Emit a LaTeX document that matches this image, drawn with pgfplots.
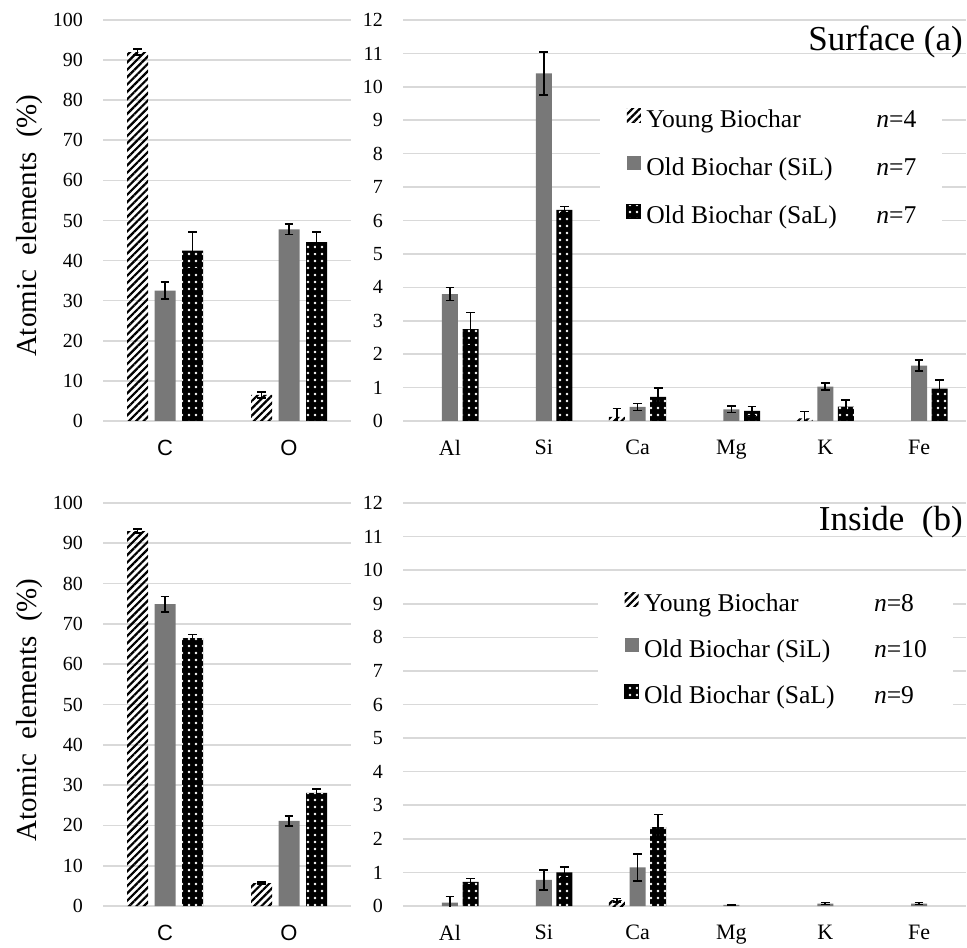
\documentclass[border=0pt]{standalone}
\usepackage{fontspec}
\setmainfont{Liberation Serif}
\newfontfamily\arial{Liberation Sans}
\usepackage{pgfplots}
\pgfplotsset{compat=1.18}
\usetikzlibrary{patterns.meta}

\definecolor{gridgray}{RGB}{217,217,217}
\definecolor{silgray}{RGB}{120,120,120}

\tikzset{
  youngfill/.style={pattern={Lines[angle=45,distance=2.6pt,line width=1.1pt]}, pattern color=black},
  silfill/.style={fill=silgray},
  salfill/.style={fill=black,
    postaction={pattern={Dots[radius=0.7pt,distance=3.5pt]}, pattern color=white}},
}

\pgfplotsset{
  panel/.style={
    scale only axis,
    axis line style={draw=none},
    major tick length=0pt,
    ymajorgrids,
    grid style={gridgray, line width=0.8pt},
    ymin=0,
    /pgf/number format/assume math mode=true,
    yticklabel style={font=\fontsize{10}{12}\selectfont, xshift=-6.5pt},
    xticklabel style={yshift=-6pt},
  },
  leftpanel/.style={panel, width=124pt, xmin=-0.5, xmax=1.5, ymax=100,
    ytick={0,10,...,100}, xtick={0,1}, xticklabels={C,O},
    xticklabel style={font=\arial\fontsize{11}{13}\selectfont},
    ylabel={Atomic\ \ elements\ \ (\%)},
    every axis y label/.style={at={(axis description cs:-0.2944,0.487)},
      rotate=90, anchor=center, font=\fontsize{14.5}{16}\selectfont}},
  rightpanel/.style={panel, width=281.5pt, xmin=-0.5, xmax=5.5, ymax=12,
    ytick={0,...,12}, xtick={0,...,5}, xticklabels={Al,Si,Ca,Mg,K,Fe},
    xticklabel style={font=\fontsize{11}{13}\selectfont}},
  errs/.style={error bars/.cd, y dir=both, y explicit,
    error bar style={black, line width=0.8pt},
    error mark options={black, line width=0.8pt, rotate=90, mark size=2.2pt}},
  young/.style={ybar, bar shift=0pt, draw=none, youngfill, forget plot},
  sil/.style={ybar, bar shift=0pt, draw=none, silfill, forget plot},
  sal/.style={ybar, bar shift=0pt, draw=none, salfill, forget plot},
  legyoung/.style={legend image code/.code={\fill[draw=none, youngfill] (0pt,-0.8pt) rectangle (7pt,6.2pt);}},
  legsil/.style={legend image code/.code={\fill[draw=none, silfill] (0pt,-0.8pt) rectangle (7pt,6.2pt);}},
  legsal/.style={legend image code/.code={\fill[draw=none, salfill] (0pt,-0.8pt) rectangle (7pt,6.2pt);}},
  legbox/.style={legend style={draw=none, fill=white, anchor=north west,
    inner xsep=13pt, inner ysep=6pt, column sep=2.5pt,
    font=\fontsize{12.8}{15}\selectfont, legend cell align=left,
    nodes={inner sep=0pt, text height=9pt, text depth=2.5pt}}},
}

\begin{document}
\begin{tikzpicture}
\useasboundingbox (0,0) rectangle (483.5pt,473.5pt);

% Surface (a), C and O
\begin{axis}[leftpanel, height=200.5pt, at={(51.5pt,263pt)}, anchor=south west]
  \addplot[young, bar width=10.5pt, xshift=-13.75pt, errs] coordinates {
    (0,92.0) +- (0,0.8)  (1,6.5) +- (0,0.8) };
  \addplot[sil, bar width=10.5pt, errs] coordinates {
    (0,32.5) +- (0,2.1)  (1,47.8) +- (0,1.3) };
  \addplot[sal, bar width=10.5pt, xshift=13.75pt, errs] coordinates {
    (0,42.5) +- (0,4.6)  (1,44.6) +- (0,2.6) };
\end{axis}

% Surface (a), minor elements
\begin{axis}[rightpanel, height=200.5pt, at={(201.5pt,263pt)}, anchor=south west,
  legbox, legend style={at={(0.35,0.8105)}, row sep=12pt}]
  \addplot[young, bar width=8pt, xshift=-10.3pt, errs] coordinates {
    (2,0.12) +- (0,0.25)  (4,0.08) +- (0,0.2) };
  \addplot[sil, bar width=8pt, errs] coordinates {
    (0,3.80) +- (0,0.2)  (1,10.40) +- (0,0.65)  (2,0.42) +- (0,0.1)
    (3,0.35) +- (0,0.1)  (4,1.03) +- (0,0.1)   (5,1.66) +- (0,0.17) };
  \addplot[sal, bar width=8pt, xshift=10.3pt, errs] coordinates {
    (0,2.75) +- (0,0.5)  (1,6.32) +- (0,0.1)   (2,0.72) +- (0,0.26)
    (3,0.30) +- (0,0.13) (4,0.43) +- (0,0.2)   (5,0.97) +- (0,0.26) };
  \addlegendimage{legyoung}
  \addlegendentry{\makebox[115pt][l]{Young Biochar}\textit{n}=4}
  \addlegendimage{legsil}
  \addlegendentry{\makebox[115pt][l]{Old Biochar (SiL)}\textit{n}=7}
  \addlegendimage{legsal}
  \addlegendentry{\makebox[115pt][l]{Old Biochar (SaL)}\textit{n}=7}
  \node[anchor=base east, inner sep=0pt, font=\fontsize{17.5}{20}\selectfont]
    at (rel axis cs:0.995,0.925) {Surface (a)};
\end{axis}

% Inside (b), C and O
\begin{axis}[leftpanel, height=201.5pt, at={(51.5pt,20.5pt)}, anchor=south west]
  \addplot[young, bar width=10.5pt, xshift=-13.75pt, errs] coordinates {
    (0,93.0) +- (0,0.5)  (1,5.7) +- (0,0.3) };
  \addplot[sil, bar width=10.5pt, errs] coordinates {
    (0,74.9) +- (0,1.9)  (1,21.1) +- (0,1.3) };
  \addplot[sal, bar width=10.5pt, xshift=13.75pt, errs] coordinates {
    (0,66.5) +- (0,0.9)  (1,28.1) +- (0,0.9) };
\end{axis}

% Inside (b), minor elements
\begin{axis}[rightpanel, height=201.5pt, at={(201.5pt,20.5pt)}, anchor=south west,
  legbox, legend style={at={(0.346,0.809)}, row sep=11pt}]
  \addplot[young, bar width=8pt, xshift=-10.3pt, errs] coordinates {
    (2,0.17) +- (0,0.05) };
  \addplot[sil, bar width=8pt, errs] coordinates {
    (0,0.10) +- (0,0.18)  (1,0.78) +- (0,0.3)  (2,1.15) +- (0,0.4)
    (3,0.03) +- (0,0.01)  (4,0.07) +- (0,0.03) (5,0.07) +- (0,0.03) };
  \addplot[sal, bar width=8pt, xshift=10.3pt, errs] coordinates {
    (0,0.72) +- (0,0.1)  (1,1.00) +- (0,0.17) (2,2.35) +- (0,0.38) };
  \addlegendimage{legyoung}
  \addlegendentry{\makebox[115pt][l]{Young Biochar}\textit{n}=8}
  \addlegendimage{legsil}
  \addlegendentry{\makebox[115pt][l]{Old Biochar (SiL)}\textit{n}=10}
  \addlegendimage{legsal}
  \addlegendentry{\makebox[115pt][l]{Old Biochar (SaL)}\textit{n}=9}
  \node[anchor=base east, inner sep=0pt, font=\fontsize{17.5}{20}\selectfont]
    at (rel axis cs:0.995,0.933) {Inside\ \ (b)};
\end{axis}
\end{tikzpicture}
\end{document}
